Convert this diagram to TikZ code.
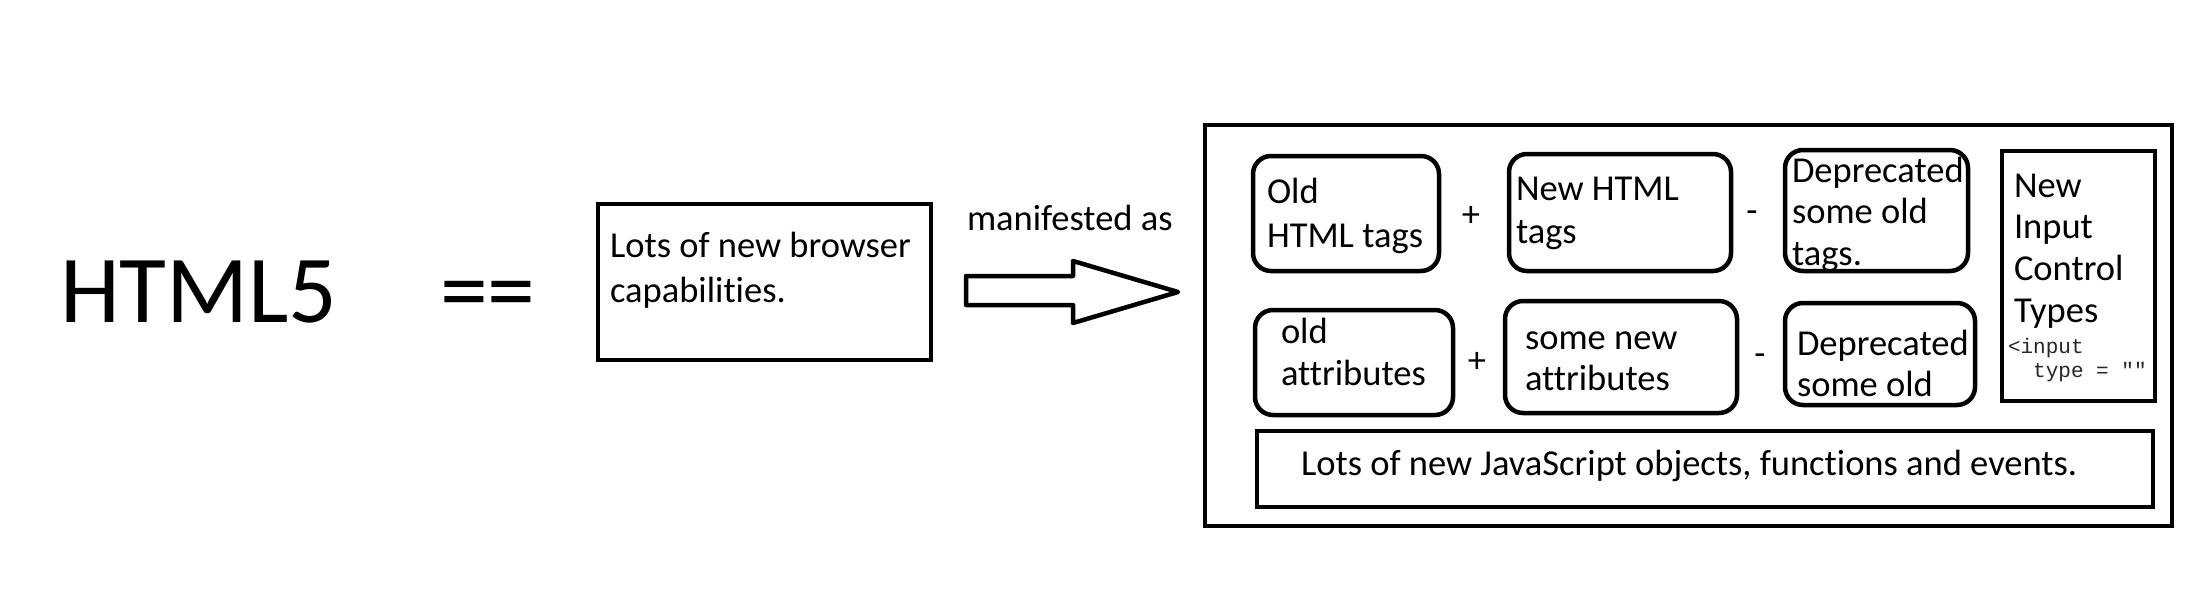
\documentclass[tikz,border=0pt]{standalone}
\usepackage{fontspec}
\setmainfont{Carlito}[Ligatures={NoCommon}]
\setmonofont{Liberation Mono}
\newcommand{\mybox}[6]{\node[#2, minimum width={#5-#3}, minimum height={#6-#4}] (#1) at ({(#3+#5)/2},{(#4+#6)/2}) {};}
\begin{document}
\begin{tikzpicture}[x=1pt,y=-1pt,
  sq/.style={draw=black, rectangle, inner sep=0pt, outer sep=0pt, line width=4.5pt},
  rb/.style={sq, rounded corners=18pt},
  txt/.style={anchor=base west, inner sep=0pt, outer sep=0pt, font=\fontsize{36.5}{44}\selectfont},
  big/.style={anchor=base west, inner sep=0pt, outer sep=0pt, font=\fontsize{96}{110}\selectfont},
  op/.style={anchor=base, inner sep=0pt, outer sep=0pt, font=\fontsize{36.5}{44}\selectfont},
  mono/.style={anchor=base west, inner sep=0pt, outer sep=0pt, text=black!85, font=\fontsize{21}{24}\ttfamily}]
\useasboundingbox (0,0) rectangle (2196,594);
\fill[white] (0,0) rectangle (2196,594);
% left part
\node[big] (html) at (60,322) {HTML5};
\node[big] (eq) at (440,322) {==};
\mybox{cap}{sq}{598}{204}{931}{360}
\node[txt] (cap1) at (610,257) {Lots of new browser};
\node[txt] (cap2) at (610,302) {capabilities.};
\node[txt] (man) at (967,230) {manifested as};
% block arrow
\coordinate (arrS) at (966,290.5);
\draw[line width=4.5pt, line join=round, fill=white] (arrS) ++(0,-14.5) -- (1073,276) -- (1073,261) -- (1178,292) -- (1073,323) -- (1073,305) -- (966,305) -- cycle;
% outer box
\mybox{outer}{sq}{1205}{125}{2172}{526}
% row 1
\mybox{A}{rb}{1253}{156}{1439}{271}
\node[txt] (a1) at (1267,203) {Old};
\node[txt] (a2) at (1267,247) {HTML tags};
\node[op] (p1) at (1471,226) {+};
\mybox{B}{rb}{1509}{154}{1731}{271}
\node[txt] (b1) at (1516,200) {New HTML};
\node[txt] (b2) at (1516,243) {tags};
\node[op] (m1) at (1752,222) {-};
\mybox{C}{rb}{1785}{150}{1968}{271}
\node[txt] (c1) at (1792,182) {Deprecated};
\node[txt] (c2) at (1792,223) {some old};
\node[txt] (c3) at (1792,265) {tags.};
\mybox{D}{sq}{2002}{151}{2155}{401}
\node[txt] (d1) at (2014,197) {New};
\node[txt] (d2) at (2014,238) {Input};
\node[txt] (d3) at (2014,280) {Control};
\node[txt] (d4) at (2014,322) {Types};
\node[mono] (d5) at (2008,353) {<input};
\node[mono] (d6) at (2008,377) {\ \ type = ""};
% row 2
\mybox{E}{rb}{1255}{310}{1453}{415}
\node[txt] (e1) at (1281,343) {old};
\node[txt] (e2) at (1281,385) {attributes};
\node[op] (p2) at (1477,372) {+};
\mybox{F}{rb}{1505}{301}{1737}{413}
\node[txt] (f1) at (1525,349) {some new};
\node[txt] (f2) at (1525,390) {attributes};
\node[op] (m2) at (1760,365) {-};
\mybox{G}{rb}{1785}{303}{1975}{405}
\node[txt] (g1) at (1797,355) {Deprecated};
\node[txt] (g2) at (1797,396) {some old};
% bottom
\mybox{H}{sq}{1257}{431}{2153}{507}
\node[txt] (h1) at (1301,475) {Lots of new JavaScript objects, functions and events.};
\end{tikzpicture}
\end{document}
